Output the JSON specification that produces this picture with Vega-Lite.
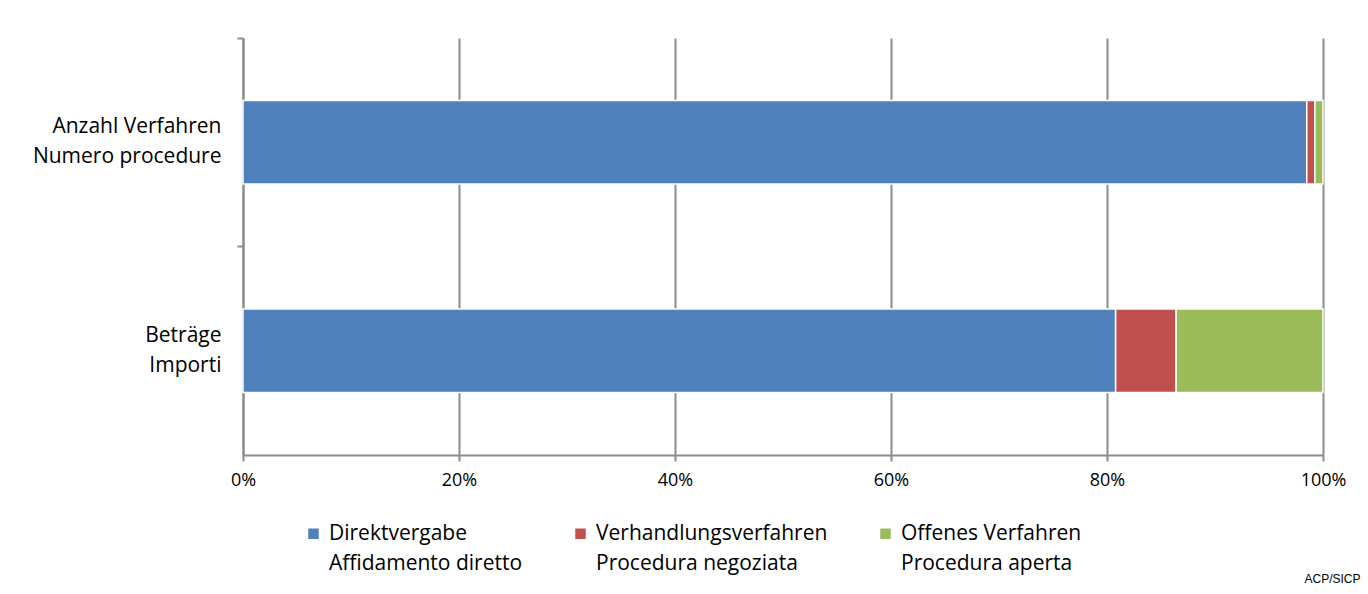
{
  "$schema": "https://vega.github.io/schema/vega-lite/v6.json",
  "autosize": {"type": "none"},
  "width": 1080,
  "height": 417,
  "padding": {"left": 243, "top": 38, "right": 45, "bottom": 139},
  "background": "white",
  "data": {"values": [
    {"cat": "Anzahl Verfahren\nNumero procedure", "typ": "Direktvergabe\nAffidamento diretto", "idx": 1, "v": 98.5},
    {"cat": "Anzahl Verfahren\nNumero procedure", "typ": "Verhandlungsverfahren\nProcedura negoziata", "idx": 2, "v": 0.75},
    {"cat": "Anzahl Verfahren\nNumero procedure", "typ": "Offenes Verfahren\nProcedura aperta", "idx": 3, "v": 0.75},
    {"cat": "Beträge\nImporti", "typ": "Direktvergabe\nAffidamento diretto", "idx": 1, "v": 80.8},
    {"cat": "Beträge\nImporti", "typ": "Verhandlungsverfahren\nProcedura negoziata", "idx": 2, "v": 5.6},
    {"cat": "Beträge\nImporti", "typ": "Offenes Verfahren\nProcedura aperta", "idx": 3, "v": 13.6}
  ]},
  "mark": {"type": "bar", "stroke": "white", "strokeWidth": 1.5},
  "encoding": {
    "y": {"field": "cat", "type": "nominal", "sort": null,
      "scale": {"paddingInner": 0.6, "paddingOuter": 0.3},
      "axis": {"title": null, "bandPosition": -0.75, "tickSize": 6, "tickColor": "#8c8c8c", "tickWidth": 2, "domainColor": "#8c8c8c", "domainWidth": 2, "labelFontSize": 21, "labelFont": "Open Sans", "labelColor": "#000000", "labelPadding": 16, "labelLineHeight": 30, "labelAlign": "right", "labelOffset": -15, "labelLimit": 300, "grid": false}},
    "x": {"field": "v", "type": "quantitative", "stack": "normalize",
      "scale": {"domain": [0, 1]},
      "axis": {"title": "ACP/SICP", "titleFont": "Liberation Sans", "titleFontSize": 12, "titleFontWeight": "normal", "titleColor": "#000000", "titleAlign": "right", "titleBaseline": "middle", "titleX": 1117, "titleY": 123, "format": ".0%", "values": [0, 0.2, 0.4, 0.6, 0.8, 1], "grid": true, "gridColor": "#8c8c8c", "gridWidth": 2, "domainColor": "#8c8c8c", "domainWidth": 2, "tickColor": "#8c8c8c", "tickWidth": 2, "tickSize": 6, "labelFontSize": 18, "labelFont": "Open Sans", "labelColor": "#000000", "labelPadding": 10, "labelFlush": false}},
    "color": {"field": "typ", "type": "nominal", "sort": null,
      "scale": {"domain": ["Direktvergabe\nAffidamento diretto", "Verhandlungsverfahren\nProcedura negoziata", "Offenes Verfahren\nProcedura aperta"], "range": ["#4F81BD", "#C0504D", "#9BBB59"]},
      "legend": {"title": null, "orient": "none", "legendX": 60, "legendY": 485, "direction": "horizontal", "columns": 3, "columnPadding": 47, "symbolType": "square", "symbolSize": 110, "symbolStrokeWidth": 0, "labelFontSize": 21, "labelFont": "Open Sans", "labelColor": "#000000", "labelOffset": 5, "labelLimit": 400}},
    "order": {"field": "idx", "type": "quantitative"}
  },
  "config": {"view": {"stroke": null}, "lineBreak": "\n", "style": {"guide-label": {"lineHeight": 30}}}
}
